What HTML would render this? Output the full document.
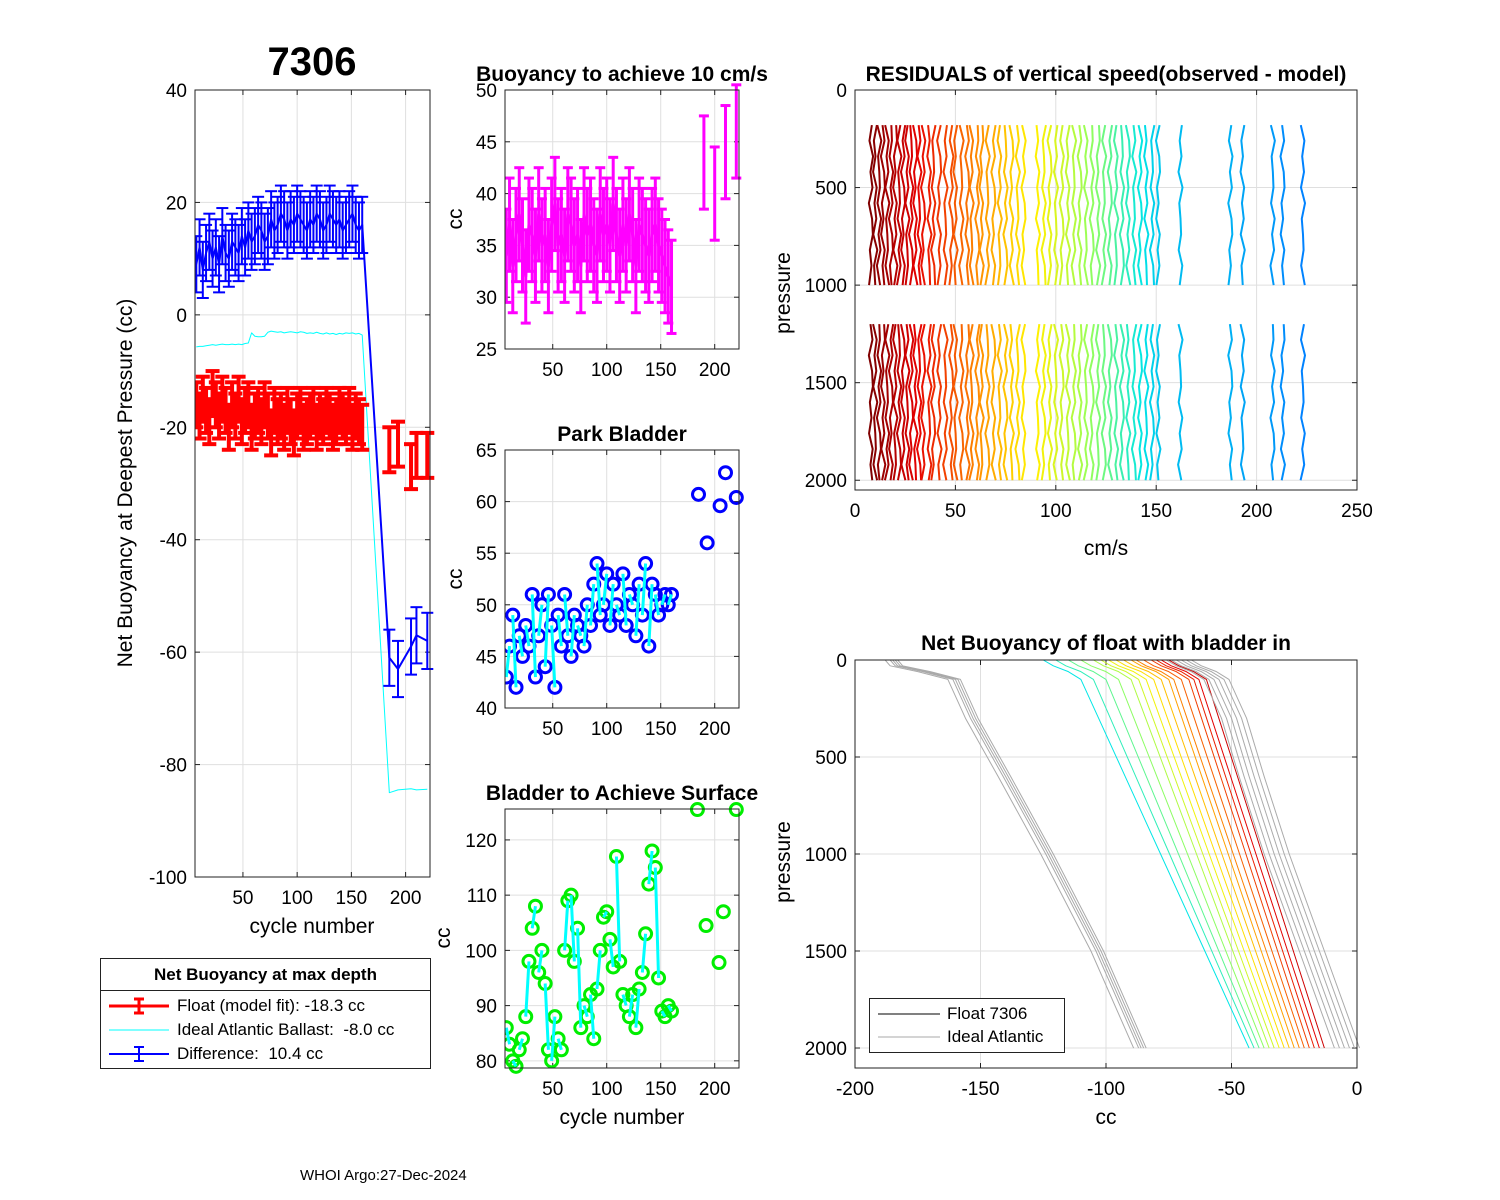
<!DOCTYPE html>
<html><head><meta charset="utf-8">
<style>
html,body{margin:0;background:#fff;}
body{position:relative;width:1500px;height:1200px;overflow:hidden}
#fig{position:absolute;left:0;top:0}
svg{font-family:"Liberation Sans",Arial,sans-serif;}
.lg{position:absolute;font-family:'Liberation Sans',sans-serif;font-size:17px;white-space:nowrap;}
</style></head>
<body>
<svg id="fig" width="1500" height="1200" viewBox="0 0 1500 1200" xmlns="http://www.w3.org/2000/svg">
<rect width="1500" height="1200" fill="#fff"/>
</svg>
<script>
// ---------- data ----------
const cycles=[7,10,13,16,19,22,25,28,31,34,37,40,43,46,49,52,55,58,61,64,67,70,73,76,79,82,85,88,91,94,97,100,103,106,109,112,115,118,121,124,127,130,133,136,139,142,145,148,151,154,157,160];
const diffVals=[9,12,8,11,13,10,12,9,14,11,10,13,12,11,14,12,15,13,14,16,15,13,14,17,15,16,18,17,15,17,16,18,17,16,15,17,16,18,17,15,16,18,17,16,17,15,16,17,18,16,15,16];
const floatVals=[-16,-18,-15,-17,-19,-14,-16,-18,-15,-17,-20,-16,-18,-15,-19,-17,-16,-20,-18,-17,-19,-16,-18,-21,-17,-19,-18,-20,-17,-19,-21,-18,-17,-20,-19,-18,-17,-20,-18,-19,-17,-18,-20,-19,-17,-18,-19,-17,-20,-18,-19,-20];
const idealVals=[-5.7,-5.6,-5.6,-5.5,-5.4,-5.3,-5.4,-5.3,-5.2,-5.3,-5.3,-5.2,-5.3,-5.2,-5.3,-5.1,-5.0,-3.2,-3.8,-3.9,-3.9,-3.8,-3.1,-2.9,-3.0,-3.1,-3.0,-3.2,-3.1,-3.0,-3.1,-3.2,-3.0,-3.1,-3.3,-3.2,-3.3,-3.1,-3.3,-3.4,-3.2,-3.4,-3.3,-3.5,-3.3,-3.4,-3.2,-3.3,-3.2,-3.4,-3.3,-3.6];
const sparseCycles=[185,193,205,210,220];
const diffSparse=[-61,-63,-59,-57,-58];
const floatSparse=[-24,-23,-27,-25,-25];
const idealSparse=[-85,-84.5,-84.3,-84.5,-84.4];
const diffErr=5, floatErr=4;

const buoy10=[34,37,33,36,38,35,32,37,36,34,38,35,36,33,37,39,35,36,34,38,37,35,36,33,38,36,37,35,34,38,36,37,35,39,36,34,37,35,38,36,33,37,36,35,34,36,37,35,34,33,32,31];
const buoy10SparseCycles=[190,200,210,220];
const buoy10Sparse=[43,40,44,46];
const buoy10Err=4.5;

const parkVals=[43,46,49,42,47,45,48,46,51,43,47,50,44,51,48,42,49,46,51,47,45,49,48,47,46,50,48,52,54,49,50,53,48,52,50,49,53,48,51,50,47,52,49,54,46,52,51,49,50,51,50,51];
const parkSparseCycles=[185,193,205,210,220];
const parkSparse=[60.7,56,59.6,62.8,60.4];

const surfVals=[86,83,80,79,82,84,88,98,104,108,96,100,94,82,80,88,84,82,100,109,110,98,104,86,90,88,92,84,93,100,106,107,102,97,117,98,92,90,88,92,86,93,96,103,112,118,115,95,89,88,90,89];
const surfSparseCycles=[184,192,204,208,220];
const surfSparse=[125.5,104.5,97.8,107,125.5];

const residOffsets=[8,10,12,14,16,18,20,22,24,26,28,30,32,34,37,39,42,45,48,50,53,56,58,61,63,66,69,72,75,78,81,84,91,94,97,100,103,106,109,112,115,118,121,124,127,130,133,136,139,142,145,148,151,162,187,193,208,213,223];
const residWiggle=[0.4,-0.8,1.0,-0.3,0.7,-1.1,0.5,0.9,-0.6,0.2,-1.0,0.8,-0.3,0.6,-0.9,1.1,-0.5,0.1];
const residPressTop=[180,260,340,420,500,580,660,740,820,900,1000];
const residPressBot=[1200,1280,1360,1440,1520,1600,1680,1760,1840,1920,2000];

const nbPress=[0,30,60,100,300,600,1000,1500,2000];
const gridLeftCC=[-185,-183,-172,-160,-153,-140,-123,-103,-86];
const gridRightCC=[-72,-68,-62,-57,-50,-43,-33,-19,-5];
const colSurf=[-75,-78,-80,-82,-85,-88,-90,-93,-96,-99,-102,-105,-110,-115,-120,-125];
const colBottom=[-13,-15,-17,-19,-21,-23,-25,-27,-29,-31,-33,-35,-37,-39,-41,-43];

// ---------- helpers ----------
const svg=document.getElementById('fig');
const NS='http://www.w3.org/2000/svg';
function el(tag,attrs,parent){const e=document.createElementNS(NS,tag);for(const k in attrs)e.setAttribute(k,attrs[k]);(parent||svg).appendChild(e);return e;}
function txt(s,x,y,size,opts,parent){opts=opts||{};const t=el('text',{x:x,y:y,'font-size':size,'text-anchor':opts.anchor||'middle',fill:'#000','font-weight':opts.bold?'bold':'normal'},parent);if(opts.rot)t.setAttribute('transform','rotate(-90 '+x+' '+y+')');t.textContent=s;return t;}
function jet(t){
  const stops=[[0,[128,0,0]],[0.2,[230,0,0]],[0.4,[255,140,0]],[0.55,[255,240,0]],[0.7,[150,255,90]],[0.85,[0,230,230]],[1,[0,130,255]]];
  for(let i=1;i<stops.length;i++){if(t<=stops[i][0]){const a=stops[i-1],b=stops[i];const f=(t-a[0])/(b[0]-a[0]);return 'rgb('+a[1].map((v,j)=>Math.round(v+(b[1][j]-v)*f)).join(',')+')';}}
  return 'rgb(0,130,255)';
}
function makeAxes(name,b,xl,yl,xticks,yticks,rev){
  const g=el('g',{});
  
  
  const X=v=>b.x+(v-xl[0])/(xl[1]-xl[0])*b.w;
  const Y=rev?(v=>b.y+(v-yl[0])/(yl[1]-yl[0])*b.h):(v=>b.y+b.h-(v-yl[0])/(yl[1]-yl[0])*b.h);
  el('rect',{x:b.x,y:b.y,width:b.w,height:b.h,fill:'#fff'},g);
  xticks.forEach(v=>{const x=X(v);el('line',{x1:x,x2:x,y1:b.y,y2:b.y+b.h,stroke:'#dfdfdf','stroke-width':1},g);
    el('line',{x1:x,x2:x,y1:b.y+b.h,y2:b.y+b.h-5,stroke:'#222'},g);el('line',{x1:x,x2:x,y1:b.y,y2:b.y+5,stroke:'#222'},g);
    txt(String(v),x,b.y+b.h+27,19,{},g);});
  yticks.forEach(v=>{const y=Y(v);el('line',{x1:b.x,x2:b.x+b.w,y1:y,y2:y,stroke:'#dfdfdf','stroke-width':1},g);
    el('line',{x1:b.x,x2:b.x+5,y1:y,y2:y,stroke:'#222'},g);el('line',{x1:b.x+b.w,x2:b.x+b.w-5,y1:y,y2:y,stroke:'#222'},g);
    txt(String(v),b.x-8,y+7,19,{anchor:'end'},g);});
  const plot=el('g',{},g);
  const clip='clip-'+name;
  const cp=el('clipPath',{id:clip},g);el('rect',{x:b.x,y:b.y-12,width:b.w+12,height:b.h+24},cp);
  plot.setAttribute('clip-path','url(#'+clip+')');
  return {g,plot,X,Y,b,frame:()=>el('rect',{x:b.x,y:b.y,width:b.w,height:b.h,fill:'none',stroke:'#222','stroke-width':1},g)};
}
function errbar(ax,c,v,e,color,w,cap,nm){
  const x=ax.X(c),y1=ax.Y(v-e),y2=ax.Y(v+e);
  const g=el('g',{},ax.plot);
  
  
  el('line',{x1:x,x2:x,y1:y1,y2:y2,stroke:color,'stroke-width':w},g);
  el('line',{x1:x-cap,x2:x+cap,y1:y1,y2:y1,stroke:color,'stroke-width':w},g);
  el('line',{x1:x-cap,x2:x+cap,y1:y2,y2:y2,stroke:color,'stroke-width':w},g);
}
function poly(ax,xs,ys,color,w,nm){
  const p=el('polyline',{points:xs.map((x,i)=>ax.X(x)+','+ax.Y(ys[i])).join(' '),fill:'none',stroke:color,'stroke-width':w,'stroke-linejoin':'round'},ax.plot);
  
  
  return p;
}
function circ(ax,c,v,color,nm){
  const e=el('circle',{cx:ax.X(c),cy:ax.Y(v),r:6,fill:'none',stroke:color,'stroke-width':3},ax.plot);
  
  
}
const cx=[5.8,222.5];
const cyt=[50,100,150,200];

// ---------- panel 1 ----------
const a1=makeAxes('net-buoyancy-axes',{x:195,y:90,w:235,h:787},cx,[-100,40],cyt,[-100,-80,-60,-40,-20,0,20,40]);
const allC=cycles.concat(sparseCycles);
poly(a1,allC,idealVals.concat(idealSparse),'#00ffff',1,'ideal-ballast-line');
poly(a1,cycles,floatVals,'#ff0000',2,'float-line');
allC.forEach((c,i)=>errbar(a1,c,floatVals.concat(floatSparse)[i],floatErr,'#ff0000',4,7,'float-errorbar'));
poly(a1,allC,diffVals.concat(diffSparse),'#0000ff',2,'difference-line');
allC.forEach((c,i)=>errbar(a1,c,diffVals.concat(diffSparse)[i],diffErr,'#0000ff',2,6,'difference-errorbar'));
a1.frame();
txt('7306',312,75,40,{bold:true});
txt('cycle number',312,933,21);
txt('Net Buoyancy at Deepest Pressure (cc)',132,483,21,{rot:true});

// ---------- panel 2 ----------
const a2=makeAxes('buoyancy-10cms-axes',{x:505,y:90,w:234,h:259},cx,[25,50],cyt,[25,30,35,40,45,50]);
const b2c=cycles.concat(buoy10SparseCycles),b2v=buoy10.concat(buoy10Sparse);
poly(a2,cycles,buoy10,'#ff00ff',3,'buoyancy-10-line');
b2c.forEach((c,i)=>errbar(a2,c,b2v[i],buoy10Err,'#ff00ff',3,5,'buoyancy-10-errorbar'));
a2.frame();
txt('Buoyancy to achieve 10 cm/s',622,81,21,{bold:true});
txt('cc',462,219,21,{rot:true});

// ---------- panel 3 ----------
const a3=makeAxes('park-bladder-axes',{x:505,y:450,w:234,h:258},cx,[40,65],cyt,[40,45,50,55,60,65]);
parkVals.forEach((v,i)=>circ(a3,cycles[i],v,'#0000ff','park-bladder-point'));
parkSparse.forEach((v,i)=>circ(a3,parkSparseCycles[i],v,'#0000ff','park-bladder-point'));
for(let i=0;i+1<cycles.length;i+=2){poly(a3,[cycles[i],cycles[i+1]],[parkVals[i],parkVals[i+1]],'#00ffff',3,'park-bladder-line');}
a3.frame();
txt('Park Bladder',622,441,21,{bold:true});
txt('cc',462,579,21,{rot:true});

// ---------- panel 4 ----------
const a4=makeAxes('surface-bladder-axes',{x:505,y:809,w:234,h:259},cx,[78.7,125.6],cyt,[80,90,100,110,120]);
surfVals.forEach((v,i)=>circ(a4,cycles[i],v,'#00ee00','surface-bladder-point'));
surfSparse.forEach((v,i)=>circ(a4,surfSparseCycles[i],v,'#00ee00','surface-bladder-point'));
for(let i=0;i+1<cycles.length;i+=2){poly(a4,[cycles[i],cycles[i+1]],[surfVals[i],surfVals[i+1]],'#00ffff',3,'surface-bladder-line');}
a4.frame();
txt('Bladder to Achieve Surface',622,800,21,{bold:true});
txt('cycle number',622,1124,21);
txt('cc',450,938,21,{rot:true});

// ---------- panel 5 ----------
const a5=makeAxes('residuals-axes',{x:855,y:90,w:502,h:400},[0,250],[0,2050],[0,50,100,150,200,250],[0,500,1000,1500,2000],true);
residOffsets.forEach((o,i)=>{
  const col=jet(i/(residOffsets.length-1));
  [residPressTop,residPressBot].forEach((ps,k)=>{
    const xs=ps.map((p,j)=>o+residWiggle[(i*7+j+k*3)%residWiggle.length]);
    poly(a5,xs,ps,col,2,'residual-profile');
  });
});
a5.frame();
txt('RESIDUALS of vertical speed(observed - model)',1106,81,21,{bold:true});
txt('cm/s',1106,555,21);
txt('pressure',790,293,21,{rot:true});

// ---------- panel 6 ----------
const a6=makeAxes('net-buoyancy-profile-axes',{x:855,y:660,w:502,h:408},[-200,0],[0,2103],[-200,-150,-100,-50,0],[0,500,1000,1500,2000],true);
[-3,-1,0,1,2].forEach(d=>poly(a6,gridLeftCC.map(v=>v+d),nbPress,'#aaaaaa',1,'ideal-atlantic-profile'));
colSurf.forEach((s,i)=>{
  const e=colBottom[i];
  const xs=nbPress.map((p,j)=>j===0?s:(j===1?s+4:(j===2?s+10:s+15+(e-s-15)*(p-100)/1900)));
  poly(a6,xs,nbPress,jet(0.15+0.7*i/(colSurf.length-1)),1,'float-profile');
});
[-4,-2,0,2,4,6].forEach(d=>poly(a6,gridRightCC.map(v=>v+d),nbPress,'#aaaaaa',1,'ideal-atlantic-profile'));
a6.frame();
txt('Net Buoyancy of float with bladder in',1106,650,21,{bold:true});
txt('cc',1106,1124,21);
txt('pressure',790,862,21,{rot:true});
</script>

<div style="position:absolute;left:100px;top:958px;width:329px;height:109px;border:1px solid #222;background:#fff;font-family:'Liberation Sans',sans-serif;">
  <div style="text-align:center;font-weight:bold;font-size:17px;height:31px;line-height:31px;border-bottom:1px solid #222;">Net Buoyancy at max depth</div>
  <svg width="75" height="78" style="position:absolute;left:0;top:32px">
    <line x1="8" x2="68" y1="15" y2="15" stroke="#f00" stroke-width="3"/><line x1="38" x2="38" y1="8" y2="22" stroke="#f00" stroke-width="3"/><line x1="33" x2="43" y1="8" y2="8" stroke="#f00" stroke-width="3"/><line x1="33" x2="43" y1="22" y2="22" stroke="#f00" stroke-width="3"/>
    <line x1="8" x2="68" y1="39" y2="39" stroke="#0ff" stroke-width="1"/>
    <line x1="8" x2="68" y1="63" y2="63" stroke="#00f" stroke-width="2"/><line x1="38" x2="38" y1="56" y2="70" stroke="#00f" stroke-width="2"/><line x1="33" x2="43" y1="56" y2="56" stroke="#00f" stroke-width="2"/><line x1="33" x2="43" y1="70" y2="70" stroke="#00f" stroke-width="2"/>
  </svg>
  <div class="lg" style="left:76px;top:37px">Float (model fit): -18.3 cc</div>
  <div class="lg" style="left:76px;top:61px">Ideal Atlantic Ballast:&nbsp; -8.0 cc</div>
  <div class="lg" style="left:76px;top:85px">Difference:&nbsp; 10.4 cc</div>
</div>
<div style="position:absolute;left:869px;top:998px;width:194px;height:53px;border:1px solid #222;background:#fff;font-family:'Liberation Sans',sans-serif;font-size:17px;">
  <svg width="75" height="53" style="position:absolute;left:0;top:0"><line x1="8" x2="70" y1="15" y2="15" stroke="#000"/><line x1="8" x2="70" y1="38" y2="38" stroke="#aaa"/></svg>
  <div class="lg" style="left:77px;top:5px">Float 7306</div>
  <div class="lg" style="left:77px;top:28px">Ideal Atlantic</div>
</div>
<div style="position:absolute;left:300px;top:1167px;font-family:'Liberation Sans',sans-serif;font-size:15px;">WHOI Argo:27-Dec-2024</div>
</body></html>
